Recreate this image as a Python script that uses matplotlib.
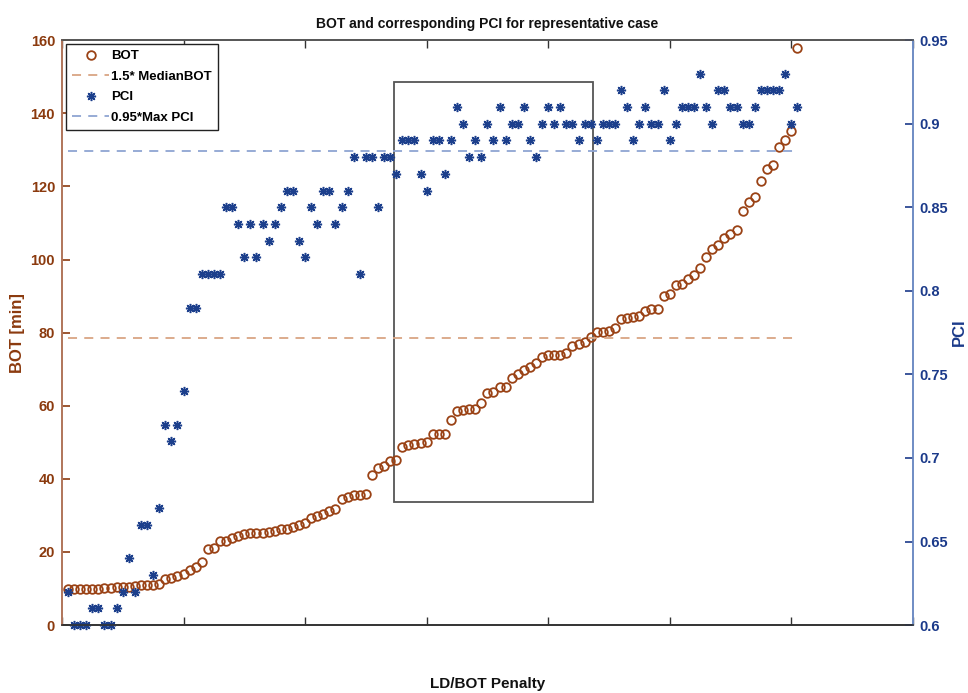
import matplotlib
matplotlib.use("Agg")
import matplotlib.pyplot as plt
from matplotlib.patches import Rectangle
import numpy as np

plt.rcParams['font.family'] = ['Liberation Sans', 'DejaVu Sans']

# ---------------- data ----------------
bot = [9.9, 10.0, 10.0, 10.0, 10.0, 10.0, 10.2, 10.2, 10.3, 10.3,
       10.4, 10.7, 10.9, 11.1, 11.1, 11.3, 12.6, 12.8, 13.4, 14.0,
       15.2, 16.0, 17.3, 20.9, 21.1, 22.9, 23.1, 23.7, 24.3, 24.8,
       25.3, 25.3, 25.3, 25.4, 25.8, 26.2, 26.4, 26.9, 27.3, 27.8,
       29.3, 29.8, 30.4, 31.2, 31.8, 34.5, 35.1, 35.6, 35.7, 35.8,
       41.0, 43.1, 43.5, 44.9, 45.1, 48.6, 49.3, 49.5, 49.9, 50.1,
       52.4, 52.4, 52.4, 56.1, 58.5, 58.8, 59.0, 59.0, 60.8, 63.4,
       63.8, 65.0, 65.2, 67.7, 68.8, 69.7, 70.7, 71.6, 73.2, 73.9,
       74.0, 74.0, 74.5, 76.4, 76.9, 77.5, 78.7, 80.1, 80.2, 80.4,
       81.4, 83.6, 83.9, 84.2, 84.5, 86.0, 86.4, 86.6, 90.0, 90.7,
       93.0, 93.3, 94.8, 95.7, 97.8, 100.7, 102.8, 103.9, 105.8, 106.9,
       108.2, 113.2, 115.8, 117.0, 121.6, 124.9, 125.9, 130.9, 132.6, 135.1,
       157.8]

pci = [0.62, 0.60, 0.60, 0.60, 0.61, 0.61, 0.60, 0.60, 0.61, 0.62,
       0.64, 0.62, 0.66, 0.66, 0.63, 0.67, 0.72, 0.71, 0.72, 0.74,
       0.79, 0.79, 0.81, 0.81, 0.81, 0.81, 0.85, 0.85, 0.84, 0.82,
       0.84, 0.82, 0.84, 0.83, 0.84, 0.85, 0.86, 0.86, 0.83, 0.82,
       0.85, 0.84, 0.86, 0.86, 0.84, 0.85, 0.86, 0.88, 0.81, 0.88,
       0.88, 0.85, 0.88, 0.88, 0.87, 0.89, 0.89, 0.89, 0.87, 0.86,
       0.89, 0.89, 0.87, 0.89, 0.91, 0.90, 0.88, 0.89, 0.88, 0.90,
       0.89, 0.91, 0.89, 0.90, 0.90, 0.91, 0.89, 0.88, 0.90, 0.91,
       0.90, 0.91, 0.90, 0.90, 0.89, 0.90, 0.90, 0.89, 0.90, 0.90,
       0.90, 0.92, 0.91, 0.89, 0.90, 0.91, 0.90, 0.90, 0.92, 0.89,
       0.90, 0.91, 0.91, 0.91, 0.93, 0.91, 0.90, 0.92, 0.92, 0.91,
       0.91, 0.90, 0.90, 0.91, 0.92, 0.92, 0.92, 0.92, 0.93, 0.90,
       0.91]

x = np.arange(1, len(bot) + 1)

bot_ticks = [0, 20, 40, 60, 80, 100, 120, 140, 160]
pci_ticks = [0.6, 0.65, 0.7, 0.75, 0.8, 0.85, 0.9, 0.95]
pci_ticklabels = ['0.6', '0.65', '0.7', '0.75', '0.8', '0.85', '0.9', '0.95']
x_ticks = [0, 20, 40, 60, 80, 100, 120, 140]

# highlighted region (x range in case index, y range in BOT minutes)
box_x = [54.6, 87.3]
box_y = [33.7, 148.5]

# ---------------- styles ----------------
c_bot = '#9A4215'
c_bot_axis = '#8B3A0E'
c_bot_spine = '#B0755A'
c_med = '#D9A584'
c_pci = '#1C3F8C'
c_pci_axis = '#1B3A8A'
c_pci_spine = '#6E8CC4'
c_max = '#8FA5D2'

fig = plt.figure(figsize=(9.68, 6.93), dpi=100)
ax = fig.add_axes([0.064, 0.098, 0.879, 0.844])
ax2 = ax.twinx()

med_line = 1.5 * np.median(bot)
max_line = 0.95 * np.max(pci)

h_bot, = ax.plot(x, bot, linestyle='none', marker='o', mfc='none',
                 mec=c_bot, mew=1.3, ms=6.2, label='BOT')
h_med, = ax.plot([x[0], x[-1]], [med_line, med_line], linestyle=(0, (5, 4)),
                 color=c_med, lw=1.3, label='1.5* MedianBOT')
ax.add_patch(Rectangle((box_x[0], box_y[0]), box_x[1] - box_x[0], box_y[1] - box_y[0],
                       fill=False, edgecolor='#555555', lw=1.3))

h_pci, = ax2.plot(x, pci, linestyle='none', marker=(8, 2, 0), color=c_pci,
                  mec=c_pci, mew=1.1, ms=6.6, label='PCI', clip_on=False)
h_max, = ax2.plot([x[0], x[-1]], [max_line, max_line], linestyle=(0, (5, 4)),
                  color=c_max, lw=1.3, label='0.95*Max PCI')

ax.set_xlim(0, 140)
ax.set_ylim(0, 160)
ax2.set_ylim(0.6, 0.95)
ax.set_xticks(x_ticks)
ax.set_xticklabels([])
ax.set_yticks(bot_ticks)
ax2.set_yticks(pci_ticks)
ax2.set_yticklabels(pci_ticklabels)

ax.tick_params(axis='x', direction='in', length=6, top=True, color='#333333', width=1)
ax.tick_params(axis='y', direction='in', length=6, colors=c_bot_axis, width=1.2,
               labelsize=10.5, pad=5)
ax2.tick_params(axis='y', direction='in', length=6, colors=c_pci_axis, width=1.2,
                labelsize=10.5, pad=5)
for lab in ax.get_yticklabels() + ax2.get_yticklabels():
    lab.set_fontweight('bold')

for a in (ax, ax2):
    a.spines['top'].set_color('#555555')
    a.spines['bottom'].set_color('#333333')
    a.spines['left'].set_color(c_bot_spine)
    a.spines['right'].set_color(c_pci_spine)
    for s in a.spines.values():
        s.set_linewidth(1.2)

ax.set_ylabel('BOT [min]', color=c_bot_axis, fontsize=12, fontweight='bold')
ax.yaxis.set_label_coords(-0.043, 0.5)
ax2.set_ylabel('PCI', color=c_pci_axis, fontsize=12, fontweight='bold', rotation=90)
ax2.yaxis.set_label_coords(1.046, 0.5)
ax.set_xlabel('LD/BOT Penalty', fontsize=11, fontweight='bold', color='#111111')
ax.xaxis.set_label_coords(0.5, -0.088)
ax.set_title('BOT and corresponding PCI for representative case', fontsize=10,
             fontweight='bold', color='#111111', pad=9)

leg = ax2.legend(handles=[h_bot, h_med, h_pci, h_max], loc='upper left',
                 bbox_to_anchor=(0.005, 0.993), borderaxespad=0, fancybox=False,
                 edgecolor='#222222', framealpha=1, prop={'weight': 'bold', 'size': 9.5},
                 handlelength=2.8, handletextpad=0.15, labelspacing=0.62,
                 borderpad=0.45)
leg.get_frame().set_linewidth(1.0)

fig.savefig('out.png', dpi=100)
